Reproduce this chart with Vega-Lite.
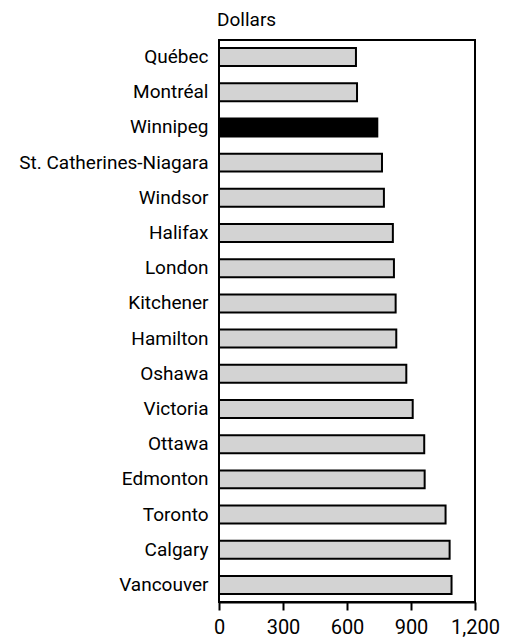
{
  "$schema": "https://vega.github.io/schema/vega-lite/v6.json",
  "width": 256,
  "height": 562,
  "autosize": "none",
  "padding": {"left": 219, "top": 40, "right": 37, "bottom": 40},
  "background": "white",
  "title": {"text": "Dollars", "anchor": "start", "frame": "group", "font": "Roboto", "fontSize": 19, "fontWeight": "normal", "color": "black", "offset": 10, "dx": -2},
  "data": {"values": [
    {"city": "Québec", "dollars": 642, "highlight": "no"},
    {"city": "Montréal", "dollars": 647, "highlight": "no"},
    {"city": "Winnipeg", "dollars": 742, "highlight": "yes"},
    {"city": "St. Catherines-Niagara", "dollars": 764, "highlight": "no"},
    {"city": "Windsor", "dollars": 773, "highlight": "no"},
    {"city": "Halifax", "dollars": 815, "highlight": "no"},
    {"city": "London", "dollars": 820, "highlight": "no"},
    {"city": "Kitchener", "dollars": 828, "highlight": "no"},
    {"city": "Hamilton", "dollars": 831, "highlight": "no"},
    {"city": "Oshawa", "dollars": 878, "highlight": "no"},
    {"city": "Victoria", "dollars": 908, "highlight": "no"},
    {"city": "Ottawa", "dollars": 962, "highlight": "no"},
    {"city": "Edmonton", "dollars": 964, "highlight": "no"},
    {"city": "Toronto", "dollars": 1062, "highlight": "no"},
    {"city": "Calgary", "dollars": 1081, "highlight": "no"},
    {"city": "Vancouver", "dollars": 1090, "highlight": "no"}
  ]},
  "mark": {"type": "bar", "stroke": "black", "strokeWidth": 2},
  "encoding": {
    "y": {"field": "city", "type": "nominal", "sort": null,
      "scale": {"paddingInner": 0.49, "paddingOuter": 0.23},
      "axis": {"title": null, "domain": false, "ticks": false, "labelPadding": 11, "labelFont": "Roboto", "labelFontSize": 19, "labelColor": "black", "labelLimit": 300}},
    "x": {"field": "dollars", "type": "quantitative",
      "scale": {"domain": [0, 1200], "nice": false},
      "axis": {"title": null, "values": [0, 300, 600, 900, 1200], "format": ",d", "grid": false, "domainColor": "black", "domainWidth": 2, "tickColor": "black", "tickWidth": 2, "tickSize": 8, "labelFont": "Roboto", "labelFontSize": 20, "labelColor": "black", "labelPadding": 7, "labelFlush": false}},
    "color": {"field": "highlight", "type": "nominal", "scale": {"domain": ["no", "yes"], "range": ["#d3d3d3", "#000000"]}, "legend": null}
  },
  "config": {"view": {"stroke": "black", "strokeWidth": 2}}
}
